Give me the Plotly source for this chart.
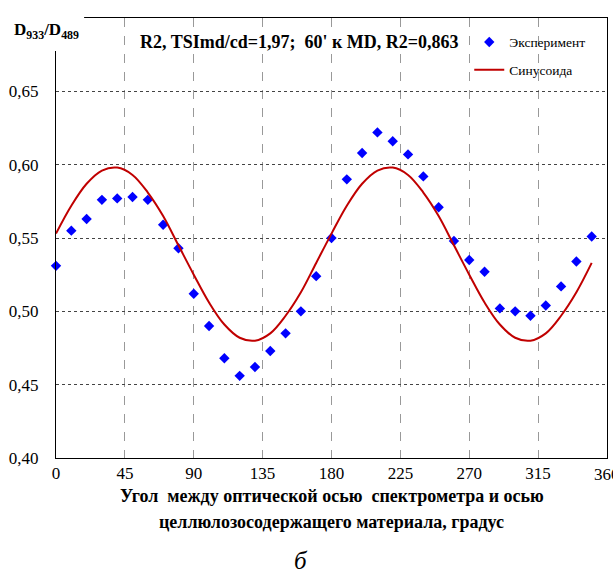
import plotly.graph_objects as go

# Experimental points
angle = [0, 10, 20, 30, 40, 50, 60, 70, 80, 90, 100, 110, 120, 130, 140, 150, 160, 170,
         180, 190, 200, 210, 220, 230, 240, 250, 260, 270, 280, 290, 300, 310, 320, 330, 340, 350]
ratio = [0.531, 0.555, 0.563, 0.576, 0.577, 0.578, 0.576, 0.559, 0.543, 0.512, 0.490, 0.468,
         0.456, 0.462, 0.473, 0.485, 0.500, 0.524,
         0.550, 0.590, 0.608, 0.622, 0.616, 0.607, 0.592, 0.571, 0.548, 0.535, 0.527, 0.502,
         0.500, 0.497, 0.504, 0.517, 0.534, 0.551]

# Sinusoid curve values
sin_angle = angle
sin_ratio = [0.553, 0.572, 0.587, 0.596, 0.598, 0.593, 0.581, 0.565, 0.545, 0.525, 0.506, 0.491,
             0.482, 0.480, 0.485, 0.497, 0.513, 0.533,
             0.553, 0.572, 0.587, 0.596, 0.598, 0.593, 0.581, 0.565, 0.545, 0.525, 0.506, 0.491,
             0.482, 0.480, 0.485, 0.497, 0.513, 0.533]

x_ticks = [0, 45, 90, 135, 180, 225, 270, 315]
y_ticks = [0.40, 0.45, 0.50, 0.55, 0.60, 0.65]

SERIF = "'Liberation Serif', 'Times New Roman', serif"

fig = go.Figure()
fig.add_trace(go.Scatter(
    x=angle, y=ratio, mode="markers", name="Эксперимент",
    marker=dict(symbol="diamond", size=8, color="#0000FF"),
    legend="legend", cliponaxis=False,
))
fig.add_trace(go.Scatter(
    x=sin_angle, y=sin_ratio, mode="lines", name="Синусоида",
    line=dict(color="#C00000", width=2, shape="spline"),
    legend="legend2",
))

fig.update_layout(
    width=613, height=586,
    margin=dict(l=56, r=6, t=18, b=128),
    paper_bgcolor="white", plot_bgcolor="white",
    showlegend=True,
    font=dict(family=SERIF, size=17, color="black"),
    xaxis=dict(
        range=[0, 360], tickvals=x_ticks, ticktext=[str(v) for v in x_ticks],
        showgrid=True, gridcolor="#999999", griddash="dash", gridwidth=1,
        showline=True, linecolor="black", linewidth=1, mirror=True,
        zeroline=False, ticks="", tickfont=dict(family=SERIF, size=17),
    ),
    yaxis=dict(
        range=[0.40, 0.70], tickvals=y_ticks, ticktext=[f"{v:.2f}".replace(".", ",") for v in y_ticks],
        showgrid=True, gridcolor="#444444", griddash="dot", gridwidth=1,
        showline=True, linecolor="black", linewidth=1, mirror=True,
        zeroline=False, ticks="", ticklabelstandoff=13,
        tickfont=dict(family=SERIF, size=17),
    ),
    legend=dict(x=0.75, y=0.945, xanchor="left", yanchor="middle",
                bgcolor="rgba(255,255,255,0)", font=dict(family=SERIF, size=13.5),
                itemwidth=30),
    legend2=dict(x=0.75, y=0.882, xanchor="left", yanchor="middle",
                 bgcolor="rgba(255,255,255,0)", font=dict(family=SERIF, size=13.5),
                 itemwidth=30),
    shapes=[dict(type="rect", xref="paper", yref="paper", x0=-0.02, x1=0.051,
                 y0=0.925, y1=1.03, fillcolor="white", line=dict(width=0), layer="above")],
)

annotations = [
    dict(text="<b>D<sub>933</sub>/D<sub>489</sub></b>", xref="paper", yref="paper",
         x=-0.08, y=0.970, xanchor="left", yanchor="middle", showarrow=False,
         font=dict(family=SERIF, size=17)),
    dict(text="360", xref="x", yref="paper", x=360, y=-0.012, xanchor="center", yanchor="top",
         showarrow=False, font=dict(family=SERIF, size=17)),
    dict(text="<b>R2, TSImd/cd=1,97;  60' к MD, R2=0,863</b>", xref="paper", yref="paper",
         x=0.148, y=0.945, xanchor="left", yanchor="middle", showarrow=False,
         font=dict(family=SERIF, size=18), bgcolor="white"),
    dict(text="<b>Угол  между оптической осью  спектрометра и осью</b>", xref="paper", yref="paper",
         x=0.5, y=-0.087, xanchor="center", yanchor="middle", showarrow=False,
         font=dict(family=SERIF, size=18)),
    dict(text="<b>целлюлозосодержащего материала, градус</b>", xref="paper", yref="paper",
         x=0.5, y=-0.146, xanchor="center", yanchor="middle", showarrow=False,
         font=dict(family=SERIF, size=18)),
    dict(text="<i>б</i>", xref="paper", yref="paper",
         x=0.445, y=-0.232, xanchor="center", yanchor="middle", showarrow=False,
         font=dict(family=SERIF, size=25)),
]
fig.update_layout(annotations=annotations)

fig.write_html("out.html")
